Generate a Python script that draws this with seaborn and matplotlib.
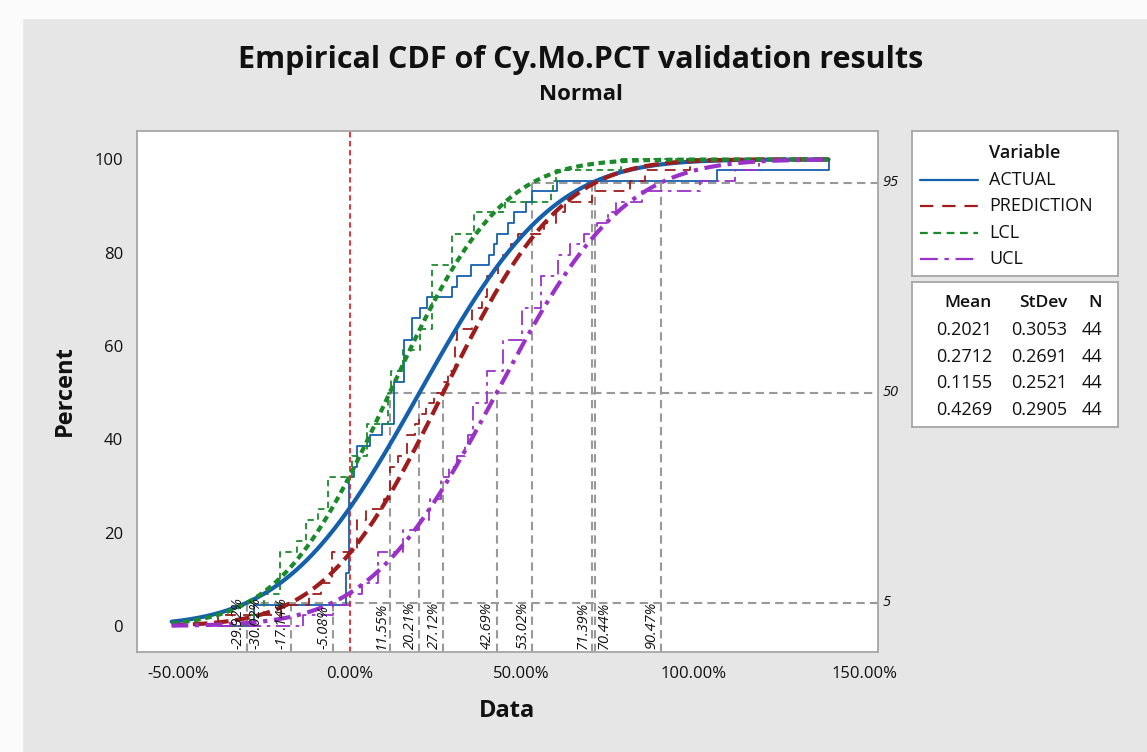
import math
import matplotlib
matplotlib.use('Agg')
import matplotlib.pyplot as plt
import matplotlib.transforms as mtransforms
from matplotlib.patches import Rectangle
from matplotlib.ticker import FuncFormatter
import numpy as np
import seaborn as sns

# Data (fractions, 44 values each)
variables = ['ACTUAL', 'PREDICTION', 'LCL', 'UCL']
actual = [-0.28, -0.28, -0.012, -0.012, -0.012, -0.004, -0.004, -0.004, -0.004,
          -0.004, -0.004, -0.004, -0.004, -0.004, 0.01, 0.02, 0.02, 0.058, 0.093,
          0.127, 0.127, 0.127, 0.127, 0.156, 0.156, 0.156, 0.156, 0.18, 0.18,
          0.205, 0.224, 0.297, 0.312, 0.351, 0.404, 0.419, 0.429, 0.46, 0.478,
          0.512, 0.531, 0.604, 1.07, 1.394]
prediction = [-0.385, -0.20, -0.12, -0.085, -0.053, -0.053, -0.053, 0.02, 0.02,
              0.02, 0.045, 0.10, 0.115, 0.115, 0.115, 0.14, 0.165, 0.165, 0.19,
              0.20, 0.22, 0.245, 0.27, 0.285, 0.305, 0.305, 0.305, 0.31, 0.355,
              0.355, 0.385, 0.40, 0.40, 0.43, 0.445, 0.47, 0.49, 0.565, 0.60,
              0.625, 0.705, 0.815, 0.86, 0.99]
lcl = [-0.29, -0.25, -0.25, -0.205, -0.205, -0.205, -0.205, -0.155, -0.13, -0.13,
       -0.095, -0.065, -0.065, -0.065, 0.005, 0.005, 0.05, 0.05, 0.05, 0.11, 0.11,
       0.11, 0.12, 0.12, 0.155, 0.155, 0.205, 0.205, 0.239, 0.239, 0.239, 0.239,
       0.239, 0.239, 0.297, 0.297, 0.297, 0.36, 0.36, 0.45, 0.585, 0.59, 0.60, 0.79]
ucl = [-0.137, -0.05, 0.0, 0.035, 0.08, 0.08, 0.08, 0.155, 0.155, 0.20, 0.23,
       0.234, 0.265, 0.265, 0.287, 0.31, 0.335, 0.342, 0.357, 0.357, 0.357, 0.40,
       0.40, 0.40, 0.445, 0.445, 0.445, 0.50, 0.50, 0.50, 0.555, 0.555, 0.555,
       0.605, 0.605, 0.64, 0.68, 0.72, 0.75, 0.775, 0.85, 1.02, 1.12, 1.19]

means = [0.2021, 0.2712, 0.1155, 0.4269]
stdevs = [0.3053, 0.2691, 0.2521, 0.2905]
counts = [44, 44, 44, 44]

# fitted 5th / 50th / 95th percentiles as labelled on the chart
ref_levels = [5, 50, 95]
pct05 = [-0.3002, -0.1714, -0.2992, -0.0508]
pct50 = [0.2021, 0.2712, 0.1155, 0.4269]
pct95 = [0.7044, 0.7139, 0.5302, 0.9047]
x_ticks = [-0.5, 0.0, 0.5, 1.0, 1.5]
y_ticks = [0, 20, 40, 60, 80, 100]

series = [actual, prediction, lcl, ucl]
colors = ['#1560ac', '#9e1c1c', '#1b8a2b', '#9a32c8']
thin_styles = ['-', (0, (6, 4)), (0, (3.5, 2.5)), (0, (8, 3, 2, 3))]
thick_styles = ['-', (0, (3.5, 1.6)), (0, (1.6, 1.1)), (0, (4, 1.6, 1, 1.6))]

sns.set_theme(style='white')
plt.rcParams['font.family'] = ['Open Sans', 'DejaVu Sans']
plt.rcParams['axes.unicode_minus'] = False

W, H = 1147, 752
fig = plt.figure(figsize=(W / 100, H / 100), dpi=100, facecolor='#e6e6e6')
# white page strips around the grey graph panel
fig.patches.append(Rectangle((0, 1 - 18 / H), 1, 18 / H, transform=fig.transFigure,
                             color='#fbfbfb', zorder=-1))
fig.patches.append(Rectangle((0, 0), 22 / W, 1, transform=fig.transFigure,
                             color='#fbfbfb', zorder=-1))

ax = fig.add_axes([137 / W, 1 - 652 / H, (878 - 137) / W, (652 - 131) / H])
ax.set_facecolor('white')
xmin, xmax = -0.621, 1.538
ymin, ymax = -5.6, 106.1

gmin = min(min(s) for s in series)
gmax = max(max(s) for s in series)

# empirical step functions
for vals, c, ls in zip(series, colors, thin_styles):
    sns.ecdfplot(x=vals, stat='percent', ax=ax, color=c, linestyle=ls, linewidth=1.3)
    if min(vals) > gmin:
        ax.plot([gmin, min(vals)], [0, 0], color=c, linestyle=ls, linewidth=1.3)
    if max(vals) < gmax:
        ax.plot([max(vals), gmax], [100, 100], color=c, linestyle=ls, linewidth=1.3)

# fitted normal CDFs
xs = np.linspace(-0.52, gmax, 400)
erf = np.vectorize(math.erf)
for m, s, c, ls in zip(means, stdevs, colors, thick_styles):
    ys = 100 * 0.5 * (1 + erf((xs - m) / (s * math.sqrt(2))))
    sns.lineplot(x=xs, y=ys, ax=ax, color=c, linestyle=ls, linewidth=3, zorder=3)

# percentile reference lines
ref_kw = dict(color='#999999', linestyle=(0, (4, 2.5)), linewidth=1.5, zorder=1)
tr = mtransforms.blended_transform_factory(ax.transAxes, ax.transData)
all_pts = []
for lev, pts in zip(ref_levels, [pct05, pct50, pct95]):
    ax.plot([min(pts), xmax], [lev, lev], **ref_kw)
    for p in pts:
        ax.plot([p, p], [ymin, lev], **ref_kw)
        all_pts.append(p)
    ax.text(1.006, lev, str(lev), transform=tr, ha='left', va='center',
            fontsize=10.5, style='italic', color='#111111')

# value labels under the reference lines; close pairs are split to both sides
all_pts.sort()
label_pos = {p: (p - 0.004, 'right') for p in all_pts}
for a, b in zip(all_pts[:-1], all_pts[1:]):
    if b - a < 0.03:
        label_pos[a] = (b + 0.004, 'left')
        label_pos[b] = (a - 0.004, 'right')
for p in all_pts:
    lx, ha = label_pos[p]
    ax.text(lx, -5.0, f'{p * 100:.2f}%', rotation=90, ha=ha, va='bottom',
            fontsize=10.5, style='italic', color='#111111')

ax.axvline(0, color='#e3262b', linestyle=(0, (3, 2)), linewidth=1.3, zorder=2)

ax.set_xlim(xmin, xmax)
ax.set_ylim(ymin, ymax)
ax.set_xticks(x_ticks)
ax.set_yticks(y_ticks)
ax.xaxis.set_major_formatter(FuncFormatter(lambda v, _: f'{v * 100:.2f}%'))
ax.tick_params(direction='out', length=5, width=1, color='#a0a0a0',
               labelsize=12, labelcolor='#111111', pad=5)
ax.set_xlabel('')
ax.set_ylabel('')
for sp in ax.spines.values():
    sp.set_color('#a6a6a6')
    sp.set_linewidth(1.3)

fig.text(65 / W, 1 - 391 / H, 'Percent', rotation=90, ha='center', va='center',
         fontsize=17, fontweight='bold', color='#111111')
fig.text(507 / W, 1 - 711 / H, 'Data', ha='center', va='center',
         fontsize=17, fontweight='bold', color='#111111')
fig.text(581 / W, 1 - 60 / H, 'Empirical CDF of Cy.Mo.PCT validation results',
         ha='center', va='center', fontsize=22, fontweight='bold', color='#111111')
fig.text(581 / W, 1 - 95 / H, 'Normal', ha='center', va='center',
         fontsize=16, fontweight='bold', color='#111111')

# legend box
lax = fig.add_axes([912 / W, 1 - 276 / H, 206 / W, 145 / H])
lax.set_xlim(0, 206)
lax.set_ylim(145, 0)
lax.set_xticks([])
lax.set_yticks([])
lax.set_facecolor('white')
for sp in lax.spines.values():
    sp.set_color('#a6a6a6')
    sp.set_linewidth(1.3)
lax.text(77, 22, 'Variable', ha='left', va='center', fontsize=13,
         fontweight='semibold', color='#111111')
for i, (name, c, ls) in enumerate(zip(variables, colors, thin_styles)):
    yy = 49 + i * 26.3
    lax.plot([8, 66], [yy, yy], color=c, linestyle=ls, linewidth=1.6)
    lax.text(77, yy, name, ha='left', va='center', fontsize=13, color='#111111')

# statistics table
tax = fig.add_axes([912 / W, 1 - 427 / H, 206 / W, 145 / H])
tax.set_xlim(0, 206)
tax.set_ylim(145, 0)
tax.set_xticks([])
tax.set_yticks([])
tax.set_facecolor('white')
for sp in tax.spines.values():
    sp.set_color('#a6a6a6')
    sp.set_linewidth(1.3)
col_x = [80, 155, 190]
for cx, head in zip(col_x, ['Mean', 'StDev', 'N']):
    tax.text(cx, 21, head, ha='right', va='center', fontsize=12.5,
             fontweight='semibold', color='#111111')
for i, (m, s, n) in enumerate(zip(means, stdevs, counts)):
    yy = 48 + i * 26.6
    for cx, val in zip(col_x, [f'{m:.4f}', f'{s:.4f}', str(n)]):
        tax.text(cx, yy, val, ha='right', va='center', fontsize=13, color='#111111')

fig.savefig('out.png', dpi=100, facecolor=fig.get_facecolor())
